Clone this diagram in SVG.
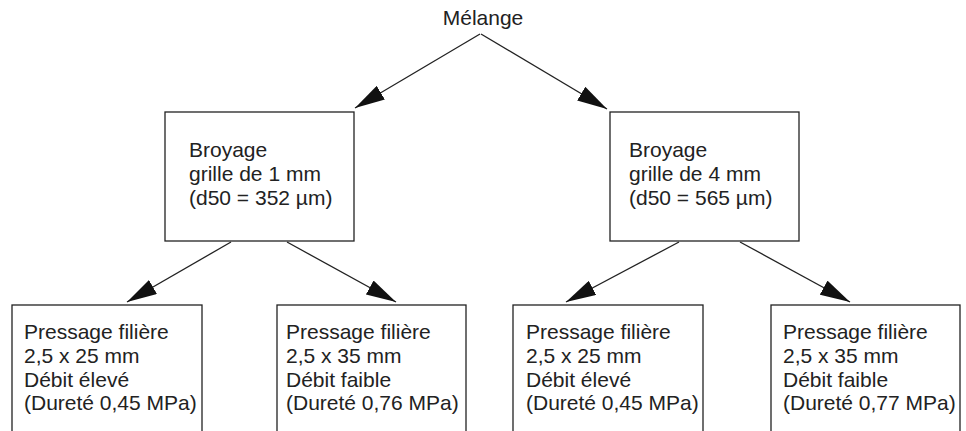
<svg xmlns="http://www.w3.org/2000/svg" width="966" height="431" viewBox="0 0 966 431">
<style>
.box{fill:#fff;stroke:#222;stroke-width:1.3}
.t{font-family:"Liberation Sans",Arial,sans-serif;font-size:21px;fill:#222}
.c{stroke:#222;stroke-width:1.3;fill:none;marker-end:url(#ah)}
</style>
<defs>
<marker id="ah" markerUnits="userSpaceOnUse" viewBox="0 0 30 16" refX="30" refY="8" markerWidth="30" markerHeight="16" orient="auto">
<path d="M0,0 L30,8 L0,16 z" fill="#111"/>
</marker>
</defs>
<rect width="966" height="431" fill="#fff"/>
<g id="melange"><text class="t" x="483" y="25" text-anchor="middle">Mélange</text></g>
<g id="broyage1"><rect class="box" x="165" y="112" width="189" height="129"/>
<text class="t" x="189" y="157">Broyage</text><text class="t" x="189" y="181">grille de 1 mm</text><text class="t" x="189" y="205">(d50 = 352 µm)</text></g>
<g id="broyage4"><rect class="box" x="610" y="112" width="189" height="129"/>
<text class="t" x="629" y="157">Broyage</text><text class="t" x="629" y="181">grille de 4 mm</text><text class="t" x="629" y="205">(d50 = 565 µm)</text></g>
<g id="p1"><rect class="box" x="12" y="305" width="190" height="140"/>
<text class="t" x="24" y="339">Pressage filière</text><text class="t" x="24" y="363">2,5 x 25 mm</text><text class="t" x="24" y="387">Débit élevé</text><text class="t" x="24" y="410">(Dureté 0,45 MPa)</text></g>
<g id="p2"><rect class="box" x="277" y="305" width="189" height="140"/>
<text class="t" x="286" y="339">Pressage filière</text><text class="t" x="286" y="363">2,5 x 35 mm</text><text class="t" x="286" y="387">Débit faible</text><text class="t" x="286" y="410">(Dureté 0,76 MPa)</text></g>
<g id="p3"><rect class="box" x="513" y="305" width="190" height="140"/>
<text class="t" x="526" y="339">Pressage filière</text><text class="t" x="526" y="363">2,5 x 25 mm</text><text class="t" x="526" y="387">Débit élevé</text><text class="t" x="526" y="410">(Dureté 0,45 MPa)</text></g>
<g id="p4"><rect class="box" x="771" y="305" width="189" height="140"/>
<text class="t" x="783" y="339">Pressage filière</text><text class="t" x="783" y="363">2,5 x 35 mm</text><text class="t" x="783" y="387">Débit faible</text><text class="t" x="783" y="410">(Dureté 0,77 MPa)</text></g>
<g id="connectors">
<line class="c" x1="480" y1="34" x2="355" y2="108"/>
<line class="c" x1="481" y1="34" x2="607" y2="109"/>
<line class="c" x1="231" y1="242" x2="127" y2="302"/>
<line class="c" x1="287" y1="242" x2="396" y2="302"/>
<line class="c" x1="679" y1="242" x2="566" y2="302"/>
<line class="c" x1="740" y1="242" x2="850" y2="302"/>
</g>
</svg>
